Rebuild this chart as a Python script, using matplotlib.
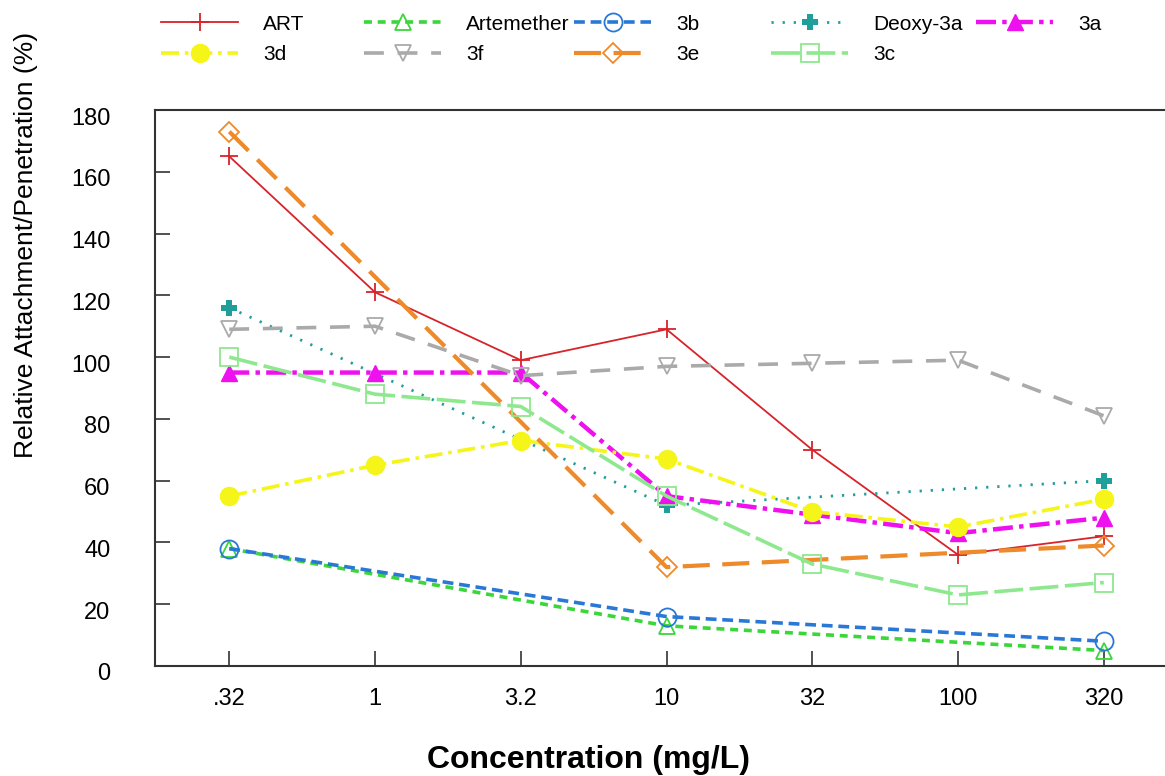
import numpy as np
import matplotlib
matplotlib.use('Agg')
import matplotlib.pyplot as plt
from matplotlib.transforms import ScaledTranslation

plt.rcParams['font.family'] = ['Liberation Sans', 'DejaVu Sans']

# Concentrations (categorical x axis)
conc_labels = ['.32', '1', '3.2', '10', '32', '100', '320']

# Relative attachment/penetration (%), nan = no measurement
art = [165, 121, 99, 109, 70, 36, 42]
artemether = [38, np.nan, np.nan, 13, np.nan, np.nan, 5]
c3b = [38, np.nan, np.nan, 16, np.nan, np.nan, 8]
deoxy3a = [116, np.nan, np.nan, 52, np.nan, np.nan, 60]
c3a = [95, 95, 95, 55, 49, 43, 48]
c3d = [55, 65, 73, 67, 50, 45, 54]
c3f = [109, 110, 94, 97, 98, 99, 81]
c3e = [173, np.nan, np.nan, 32, np.nan, np.nan, 39]
c3c = [100, 88, 84, 55, 33, 23, 27]

series = [
    ('ART', art, dict(color='#d8232a', lw=1.3, ls='-', marker='+', ms=13, mew=1.3)),
    ('Artemether', artemether, dict(color='#3ad63a', lw=2.6, dashes=(2.2, 1.6), marker='^', ms=11, mfc='none', mew=1.3)),
    ('3b', c3b, dict(color='#2a78d6', lw=2.6, dashes=(3.0, 1.6), marker='o', ms=13, mfc='none', mew=1.3)),
    ('Deoxy-3a', deoxy3a, dict(color='#1f9e9a', lw=2.0, dashes=(0.8, 3.2), marker='P', ms=12, mew=0)),
    ('3a', c3a, dict(color='#ee10ee', lw=3.2, dashes=(4.5, 1.4, 1.0, 1.4), marker='^', ms=12)),
    ('3d', c3d, dict(color='#f5f51a', lw=2.6, dashes=(5.0, 1.6, 1.0, 1.6), marker='o', ms=13)),
    ('3f', c3f, dict(color='#aaaaaa', lw=2.6, dashes=(5.5, 3.8), marker='v', ms=12, mfc='none', mew=1.3)),
    ('3e', c3e, dict(color='#ee8a2a', lw=3.0, dashes=(6.5, 3.0), marker='D', ms=10, mfc='none', mew=1.3)),
    ('3c', c3c, dict(color='#8ee88e', lw=2.6, dashes=(8.0, 1.8), marker='s', ms=13, mfc='none', mew=1.3)),
]

fig = plt.figure(figsize=(11.65, 7.76), dpi=100)
ax = fig.add_axes([0.133, 0.1418, 0.867, 0.7164])

x = np.arange(len(conc_labels))
handles = {}
for name, vals, style in series:
    y = np.array(vals, dtype=float)
    m = ~np.isnan(y)
    ln, = ax.plot(x[m], y[m], label=name, **style)
    handles[name] = ln

ax.set_xlim(-0.51, 6.42)
ax.set_ylim(0, 180)
ax.set_xticks(x)
ax.set_xticklabels(conc_labels)
ax.set_yticks(np.arange(0, 181, 20))
ax.tick_params(axis='both', direction='in', length=11, width=1.2, color='#333333',
               labelsize=17)
ax.tick_params(axis='x', pad=16)
ax.tick_params(axis='y', pad=32)
# y tick labels sit a little below their ticks in the original
shift = ScaledTranslation(0, -6 / 100, fig.dpi_scale_trans)
for lab in ax.get_yticklabels():
    lab.set_transform(lab.get_transform() + shift)
for s in ['left', 'bottom', 'top']:
    ax.spines[s].set_color('#333333')
    ax.spines[s].set_linewidth(1.5)
ax.spines['right'].set_visible(False)

fig.text(0.505, 1 - 760 / 776, 'Concentration (mg/L)', fontsize=23, fontweight='bold',
         ha='center', va='center')
fig.text(0.022, 1 - 245 / 776, 'Relative Attachment/Penetration (%)', rotation=90,
         fontsize=19, ha='center', va='center')

# legend: fixed-width columns, two rows
columns = [['ART', '3d'], ['Artemether', '3f'], ['3b', '3e'], ['Deoxy-3a', '3c'], ['3a']]
col_x = [157, 360, 570, 767, 972]
for names, cx in zip(columns, col_x):
    fig.legend([handles[n] for n in names], names, loc='upper left',
               bbox_to_anchor=(cx / 1165 - 0.009, 1.0), frameon=False, fontsize=15,
               handlelength=3.7, handletextpad=1.2, labelspacing=0.55,
               borderaxespad=0.3, numpoints=1)

fig.savefig('out.png', dpi=100)
